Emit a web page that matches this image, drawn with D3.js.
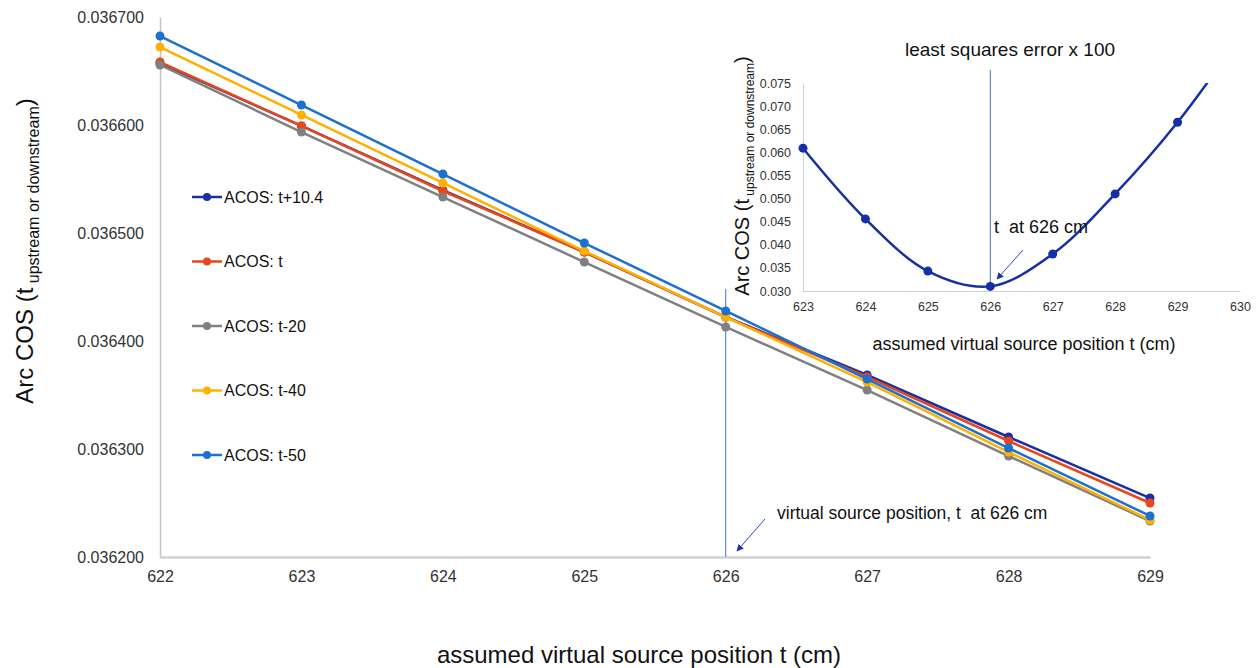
<!DOCTYPE html>
<html>
<head>
<meta charset="utf-8">
<script src="https://cdn.jsdelivr.net/npm/d3@7"></script>
<style>
  body { margin: 0; background: #fff; }
  svg { display: block; }
  text { font-family: "Liberation Sans", Arial, sans-serif; }
</style>
</head>
<body>
<script>
// main chart data
const positions = [622, 623, 624, 625, 626, 627, 628, 629];
const seriesNames = ["ACOS: t+10.4", "ACOS: t", "ACOS: t-20", "ACOS: t-40", "ACOS: t-50"];
const acosT104 = [0.0366574, 0.0365991, 0.0365398, 0.0364824, 0.0364222, 0.0363685, 0.0363111, 0.0362546];
const acosT = [0.0366583, 0.0365991, 0.0365389, 0.0364824, 0.0364222, 0.0363667, 0.0363074, 0.0362500];
const acosT20 = [0.0366556, 0.0365935, 0.0365333, 0.0364731, 0.0364130, 0.0363546, 0.0362935, 0.0362333];
const acosT40 = [0.0366722, 0.0366093, 0.0365463, 0.0364833, 0.0364222, 0.0363620, 0.0362972, 0.0362343];
const acosT50 = [0.0366824, 0.0366185, 0.0365546, 0.0364907, 0.0364278, 0.0363648, 0.0363009, 0.0362380];
const seriesColors = ["#1a2fa6", "#e8471a", "#808080", "#ffb000", "#1b70d0"];
const yTicks = [0.0362, 0.0363, 0.0364, 0.0365, 0.0366, 0.0367];

// inset data
const insetPositions = [623, 624, 625, 626, 627, 628, 629, 630];
const insetError = [0.0609, 0.0456, 0.0343, 0.0310, 0.0380, 0.0510, 0.0665, 0.0850];
const insetYTicks = [0.030, 0.035, 0.040, 0.045, 0.050, 0.055, 0.060, 0.065, 0.070, 0.075];
const markedPosition = 626;

const width = 1260, height = 668;
const allSeries = [acosT104, acosT, acosT20, acosT40, acosT50];

const svg = d3.select("body").append("svg")
  .attr("width", width)
  .attr("height", height);

const x = d3.scaleLinear().domain([622, 629]).range([160, 1150]);
const y = d3.scaleLinear().domain([0.0362, 0.0367]).range([557, 17]);

// axes
const yAxis = svg.append("g")
  .attr("transform", "translate(160,0)")
  .call(d3.axisLeft(y).tickValues(yTicks).tickSize(0).tickPadding(16).tickFormat(d3.format(".6f")));
yAxis.select(".domain").attr("stroke", "#c4c4c4").attr("stroke-width", 1.5);
yAxis.selectAll("text").attr("font-size", 16).attr("fill", "#333")
  .attr("font-family", "Liberation Sans, Arial, sans-serif");

const xAxis = svg.append("g")
  .attr("transform", "translate(0,557)")
  .call(d3.axisBottom(x).tickValues(positions).tickSize(0).tickPadding(14).tickFormat(d3.format("d")));
xAxis.select(".domain").attr("stroke", "#d0d0d0").attr("stroke-width", 2.5);
xAxis.selectAll("text").attr("font-size", 16).attr("fill", "#333")
  .attr("font-family", "Liberation Sans, Arial, sans-serif");

// vertical marker line
svg.append("line")
  .attr("x1", x(markedPosition)).attr("x2", x(markedPosition))
  .attr("y1", 289).attr("y2", y(0.0362))
  .attr("stroke", "#4472c4").attr("stroke-width", 1);

// series
const line = d3.line()
  .x((d, i) => x(positions[i]))
  .y(d => y(d));

allSeries.forEach((vals, k) => {
  const g = svg.append("g");
  g.append("path")
    .datum(vals)
    .attr("fill", "none")
    .attr("stroke", seriesColors[k])
    .attr("stroke-width", 2.5)
    .attr("d", line);
  g.selectAll("circle")
    .data(vals)
    .join("circle")
    .attr("cx", (d, i) => x(positions[i]))
    .attr("cy", d => y(d))
    .attr("r", 4.5)
    .attr("fill", seriesColors[k]);
});

// legend
const legend = svg.append("g").attr("transform", "translate(192,197)");
seriesNames.forEach((name, i) => {
  const row = legend.append("g").attr("transform", `translate(0,${i * 64.5})`);
  row.append("line").attr("x1", 0).attr("x2", 30)
    .attr("stroke", seriesColors[i]).attr("stroke-width", 2.5);
  row.append("circle").attr("cx", 15).attr("r", 4).attr("fill", seriesColors[i]);
  row.append("text").attr("x", 32).attr("dy", "0.35em")
    .attr("font-size", 16).attr("fill", "#111").text(name);
});

// axis titles
const yTitle = svg.append("text")
  .attr("transform", "translate(33,251) rotate(-90)")
  .attr("text-anchor", "middle")
  .attr("font-size", 24).attr("fill", "#111");
yTitle.append("tspan").text("Arc COS (t");
yTitle.append("tspan").attr("font-size", 16).attr("dy", 6).text(" upstream or downstream");
yTitle.append("tspan").attr("dy", -6).text(")");

svg.append("text")
  .attr("x", 639).attr("y", 663)
  .attr("text-anchor", "middle")
  .attr("font-size", 24).attr("fill", "#111")
  .text("assumed virtual source position t (cm)");

// arrow marker
svg.append("defs").append("marker")
  .attr("id", "arrow")
  .attr("viewBox", "0 0 10 10")
  .attr("refX", 9).attr("refY", 5)
  .attr("markerWidth", 7).attr("markerHeight", 7)
  .attr("orient", "auto")
  .append("path").attr("d", "M0,0L10,5L0,10z").attr("fill", "#1a35a8");

// main annotation
svg.append("text")
  .attr("x", 777).attr("y", 519)
  .attr("font-size", 17.5).attr("fill", "#111")
  .style("white-space", "pre")
  .text("virtual source position, t  at 626 cm");
svg.append("line")
  .attr("x1", 765).attr("y1", 519).attr("x2", 737).attr("y2", 551)
  .attr("stroke", "#2d4fb8").attr("stroke-width", 1)
  .attr("marker-end", "url(#arrow)");

// ---- inset chart ----
const ix = d3.scaleLinear().domain([623, 630]).range([803, 1240]);
const iy = d3.scaleLinear().domain([0.030, 0.075]).range([291, 83]);
const inset = svg.append("g");

const iyAxis = inset.append("g")
  .attr("transform", "translate(803,0)")
  .call(d3.axisLeft(iy).tickValues(insetYTicks).tickSize(0).tickPadding(12).tickFormat(d3.format(".3f")));
iyAxis.select(".domain").attr("stroke", "#d0d0d0").attr("stroke-width", 1);
iyAxis.selectAll("text").attr("font-size", 12.5).attr("fill", "#333")
  .attr("font-family", "Lato, sans-serif");

const ixAxis = inset.append("g")
  .attr("transform", "translate(0,291)")
  .call(d3.axisBottom(ix).tickValues(insetPositions).tickSize(0).tickPadding(11).tickFormat(d3.format("d")));
ixAxis.select(".domain").attr("stroke", "#d0d0d0").attr("stroke-width", 1);
ixAxis.selectAll("text").attr("font-size", 12.5).attr("fill", "#333")
  .attr("font-family", "Lato, sans-serif");

inset.append("line")
  .attr("x1", ix(markedPosition)).attr("x2", ix(markedPosition))
  .attr("y1", 70).attr("y2", 291)
  .attr("stroke", "#4472c4").attr("stroke-width", 1);

svg.select("defs").append("clipPath").attr("id", "insetClip")
  .append("rect").attr("x", 795).attr("y", 83).attr("width", 450).attr("height", 215);

const insetPlot = inset.append("g").attr("clip-path", "url(#insetClip)");
insetPlot.append("path")
  .datum(insetError)
  .attr("fill", "none")
  .attr("stroke", "#1530a6")
  .attr("stroke-width", 2.5)
  .attr("d", d3.line()
    .x((d, i) => ix(insetPositions[i]))
    .y(d => iy(d))
    .curve(d3.curveCatmullRom.alpha(0.5)));
insetPlot.selectAll("circle")
  .data(insetError)
  .join("circle")
  .attr("cx", (d, i) => ix(insetPositions[i]))
  .attr("cy", d => iy(d))
  .attr("r", 4.5)
  .attr("fill", "#1530a6");

inset.append("text")
  .attr("x", 1010).attr("y", 56)
  .attr("text-anchor", "middle")
  .attr("font-family", "Lato, sans-serif")
  .attr("font-size", 19).attr("fill", "#111")
  .text("least squares error x 100");

const iyTitle = inset.append("text")
  .attr("transform", "translate(749,176) rotate(-90)")
  .attr("text-anchor", "middle")
  .attr("font-size", 20).attr("fill", "#111");
iyTitle.append("tspan").text("Arc COS (t");
iyTitle.append("tspan").attr("font-size", 12).attr("dy", 5).text(" upstream or downstream");
iyTitle.append("tspan").attr("dy", -5).text(")");

inset.append("text")
  .attr("x", 1024).attr("y", 350)
  .attr("text-anchor", "middle")
  .attr("font-size", 18).attr("fill", "#111")
  .text("assumed virtual source position t (cm)");

inset.append("text")
  .attr("x", 994).attr("y", 233)
  .attr("font-size", 18).attr("fill", "#111")
  .style("white-space", "pre")
  .text("t  at 626 cm");
inset.append("line")
  .attr("x1", 1023).attr("y1", 250).attr("x2", 997).attr("y2", 279)
  .attr("stroke", "#2d4fb8").attr("stroke-width", 1)
  .attr("marker-end", "url(#arrow)");
</script>
</body>
</html>
